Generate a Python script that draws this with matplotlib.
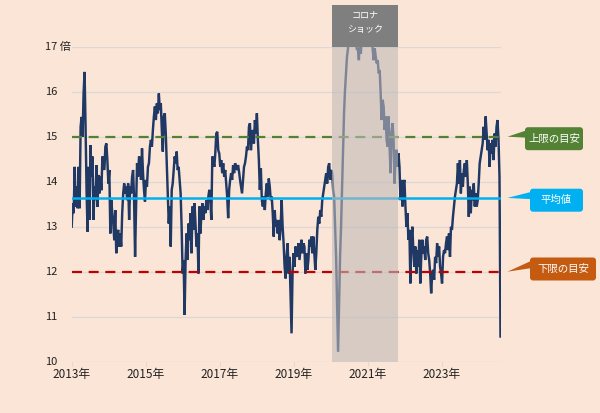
import matplotlib
matplotlib.use("Agg")
import matplotlib.pyplot as plt
import matplotlib.dates as mdates
from matplotlib.patches import Rectangle, FancyBboxPatch, Polygon
import matplotlib.transforms as mtransforms
import numpy as np
import pandas as pd

plt.rcParams['font.family'] = ['Noto Sans CJK JP', 'DejaVu Sans']

# ---------------- data ----------------
seg_2013 = [13.00, 13.52, 13.30, 14.33, 13.44, 13.89, 13.41, 14.33, 13.41, 15.22, 15.44, 15.00, 15.96, 16.44,
            15.22, 13.81, 12.89, 14.33, 13.15, 14.81, 14.11, 14.56, 13.15, 13.89, 13.59, 14.37, 13.44, 14.15,
            13.74, 14.11, 13.81, 14.56, 14.41, 14.26, 14.78, 14.85, 14.48, 13.96, 14.26, 12.85, 13.59, 13.30,
            13.07, 12.70, 13.37, 12.41, 12.85, 12.93, 12.56, 12.85, 12.56, 13.30, 13.74, 13.96, 13.74, 13.89,
            13.59, 13.96, 13.15, 13.89, 13.74, 14.11, 14.26, 13.59, 12.33, 13.44, 14.41, 14.11, 14.56, 14.48,
            14.04]
seg_2015 = [14.74, 14.19, 13.82, 13.56, 14.04, 13.89, 14.33, 14.41, 14.78, 14.93, 14.78, 15.15, 15.45, 15.67,
            15.37, 15.74, 15.52, 15.96, 15.59, 15.74, 15.15, 14.67, 15.45, 15.52, 15.07, 14.41, 13.82, 13.07,
            13.45, 12.56, 13.82, 13.96, 14.26, 14.56, 14.41, 14.67, 14.26, 14.33, 14.04, 13.74, 13.00, 11.96,
            12.26, 11.04, 12.26, 12.85, 12.26, 13.07, 12.70, 13.30, 12.41, 13.45, 12.93, 13.52, 13.07, 12.56,
            12.85, 11.96, 13.45, 12.85, 13.30, 13.52, 13.15, 13.45, 13.30, 13.59, 13.37, 13.67, 13.82, 13.59,
            13.15, 14.56, 14.48]
seg_2017 = [14.33, 14.63, 15.07, 15.11, 14.70, 14.63, 14.33, 14.48, 14.19, 14.41, 14.11, 14.26, 13.96, 13.67,
            13.19, 13.82, 14.04, 14.19, 14.04, 14.37, 14.19, 14.41, 14.33, 14.26, 14.37, 14.22, 14.04, 13.89,
            13.74, 14.04, 14.33, 14.41, 14.56, 14.78, 14.70, 15.22, 15.30, 14.70, 15.00, 15.15, 14.85, 15.37,
            15.07, 15.52, 14.93, 14.48, 13.82, 14.30, 13.59, 13.45, 13.67, 13.37, 13.74, 13.96, 13.67, 14.07,
            13.89, 13.59, 13.67, 13.30, 12.78, 13.37, 13.00, 13.15, 12.85, 13.15, 12.70, 13.00, 13.59, 13.00,
            12.63, 12.11, 11.85, 12.33, 12.63]
seg_2019 = [11.96, 12.33, 11.52, 10.63, 11.96, 12.41, 12.11, 12.56, 12.33, 12.41, 12.63, 12.26, 12.48, 12.71,
            12.41, 12.63, 12.56, 11.96, 12.41, 12.04, 12.26, 12.71, 12.56, 12.78, 12.41, 12.78, 12.41, 12.04,
            12.41, 12.93, 13.22, 13.07, 13.37, 13.22, 13.59, 13.74, 13.89, 14.04, 14.19, 13.96, 14.33, 14.41,
            14.04, 14.26, 14.19, 13.82, 13.67, 13.00, 12.33, 11.22, 10.22, 11.22, 12.33, 13.00, 13.82, 14.71,
            15.52, 16.04, 16.41, 16.78, 16.96, 17.20, 17.50, 17.30, 17.80, 17.40, 17.60, 17.30, 17.10, 16.93,
            16.96, 16.70, 17.20]
seg_2021 = [16.85, 17.30, 17.50, 17.60, 17.40, 17.70, 17.50, 17.30, 17.60, 17.40, 17.20, 17.30, 16.93, 16.70,
            16.96, 16.78, 16.63, 16.70, 16.41, 16.48, 15.96, 15.37, 15.82, 15.67, 15.15, 15.45, 14.93, 14.78,
            15.45, 14.78, 14.19, 15.07, 15.30, 14.93, 13.96, 14.56, 14.71, 14.33, 14.63, 14.33, 13.59, 14.04,
            13.45, 13.96, 14.04, 13.45, 13.00, 13.30, 12.71, 12.93, 11.74, 12.71, 13.00, 12.48, 12.11, 12.56,
            11.96, 12.48, 12.11, 12.71, 11.74, 12.33, 12.71, 12.41, 12.56, 12.26, 12.71, 12.78, 12.41, 12.26,
            11.96, 11.52, 11.96]
seg_2023 = [12.04, 11.82, 12.33, 12.19, 12.63, 12.33, 12.56, 12.11, 11.96, 11.74, 12.33, 12.48, 12.41, 12.63,
            12.78, 12.48, 12.85, 12.33, 13.00, 12.93, 13.22, 13.45, 13.67, 13.82, 13.96, 14.41, 13.96, 14.48,
            13.74, 14.19, 13.89, 14.26, 14.41, 14.11, 14.48, 13.96, 13.22, 13.89, 13.30, 13.82, 13.59, 13.96,
            13.45, 13.74, 13.45, 13.59, 13.96, 14.41, 14.56, 14.70, 14.85, 15.22, 14.93, 15.45, 15.07, 14.70,
            14.93, 14.33, 14.85, 14.63, 14.93, 14.48, 15.07, 14.78, 15.22, 15.37, 14.93, 14.11, 10.56]

per_values = seg_2013 + seg_2015 + seg_2017 + seg_2019 + seg_2021 + seg_2023
dates = pd.date_range('2013-01-01', '2024-07-31', periods=len(per_values))

upper_limit = 15.0
average = 13.64
lower_limit = 12.0

covid_start = pd.Timestamp('2020-01-10')
covid_end = pd.Timestamp('2021-10-28')

tick_years = [2013, 2015, 2017, 2019, 2021, 2023]
x_labels = [f'{y}年' for y in tick_years]
y_ticks = [10, 11, 12, 13, 14, 15, 16, 17]
y_labels = ['10', '11', '12', '13', '14', '15', '16', '17 倍']

callout_texts = ['上限の目安', '平均値', '下限の目安']
callout_colors = ['#548235', '#00B0F0', '#C55A11']

# ---------------- figure ----------------
BG = '#FBE5D6'
W, H = 600, 413
fig = plt.figure(figsize=(W / 100, H / 100), dpi=100, facecolor=BG)
ax = fig.add_axes([71.7 / W, (H - 361.7) / H, 429.3 / W, 315 / H])
ax.set_facecolor(BG)

ax.set_ylim(10, 17)
ax.set_xlim(pd.Timestamp('2013-01-01'), pd.Timestamp('2024-08-05'))
for s in ax.spines.values():
    s.set_visible(False)

for v in y_ticks:
    ax.axhline(v, color='#D9D9D9', lw=0.9, zorder=1)

ax.plot(dates, per_values, color='#1F3864', lw=1.75, zorder=3, solid_joinstyle='miter')

ax.axhline(upper_limit, color='#548235', lw=1.6, ls=(0, (4.5, 3.0)), zorder=4)
ax.axhline(average, color='#00B0F0', lw=1.8, zorder=4)
ax.axhline(lower_limit, color='#C00000', lw=1.6, ls=(0, (4.5, 3.0)), zorder=4)

ax.axvspan(covid_start, covid_end, color='#BFBAB8', alpha=0.6, lw=0, zorder=5)
cs = mdates.date2num(covid_start)
ce = mdates.date2num(covid_end)
ax.add_patch(Rectangle((cs, 17.0), ce - cs, 0.93, color='#7F7F7F', lw=0, clip_on=False, zorder=6))
ax.text((cs + ce) / 2, 17.70, 'コロナ', color='white', fontsize=6.5, ha='center', va='center', zorder=7)
ax.text((cs + ce) / 2, 17.38, 'ショック', color='white', fontsize=6.5, ha='center', va='center', zorder=7)

# ticks
ax.set_xticks([pd.Timestamp(f'{y}-01-01') for y in tick_years])
ax.set_xticklabels([])
ax.tick_params(axis='x', length=3, color='#D9D9D9', width=0.8)
ax.set_yticks([])

tx = mtransforms.blended_transform_factory(ax.transData, ax.transAxes)
for y, lab in zip(tick_years, x_labels):
    ax.text(pd.Timestamp(f'{y}-01-01'), -0.042, lab, transform=tx, ha='center', va='center',
            fontsize=8.5, color='#222222')
ty = mtransforms.blended_transform_factory(ax.transAxes, ax.transData)
for v, lab in zip(y_ticks, y_labels):
    ax.text(-0.0622, v, lab, transform=ty, ha='left', va='center', fontsize=8, color='#222222')

# ---------------- callouts ----------------
ov = fig.add_axes([0, 0, 1, 1])
ov.set_xlim(0, W)
ov.set_ylim(H, 0)
ov.axis('off')
ov.patch.set_alpha(0)


def to_py(v):
    return H - ax.transData.transform((ax.get_xlim()[0], v))[1]


callout_specs = [
    # (value, box_x0, box_x1, center offset)
    (upper_limit, 525, 583, 2.0),
    (average, 530, 583, 2.3),
    (lower_limit, 530, 596, -2.7),
]
for (val, x0, x1, off), txt, col in zip(callout_specs, callout_texts, callout_colors):
    yc = to_py(val)
    cy = yc + off
    h = 23
    box = FancyBboxPatch((x0, cy - h / 2), x1 - x0, h, boxstyle='round,pad=0,rounding_size=3',
                         fc=col, ec='none')
    ov.add_patch(box)
    wedge = Polygon([(507.5, yc), (x0 + 2, cy - 8.5), (x0 + 2, cy - 1)], closed=True, fc=col, ec='none')
    ov.add_patch(wedge)
    ov.text((x0 + x1) / 2, cy, txt, color='white', fontsize=7.5, ha='center', va='center')

fig.savefig('out.png', dpi=100, facecolor=BG)
